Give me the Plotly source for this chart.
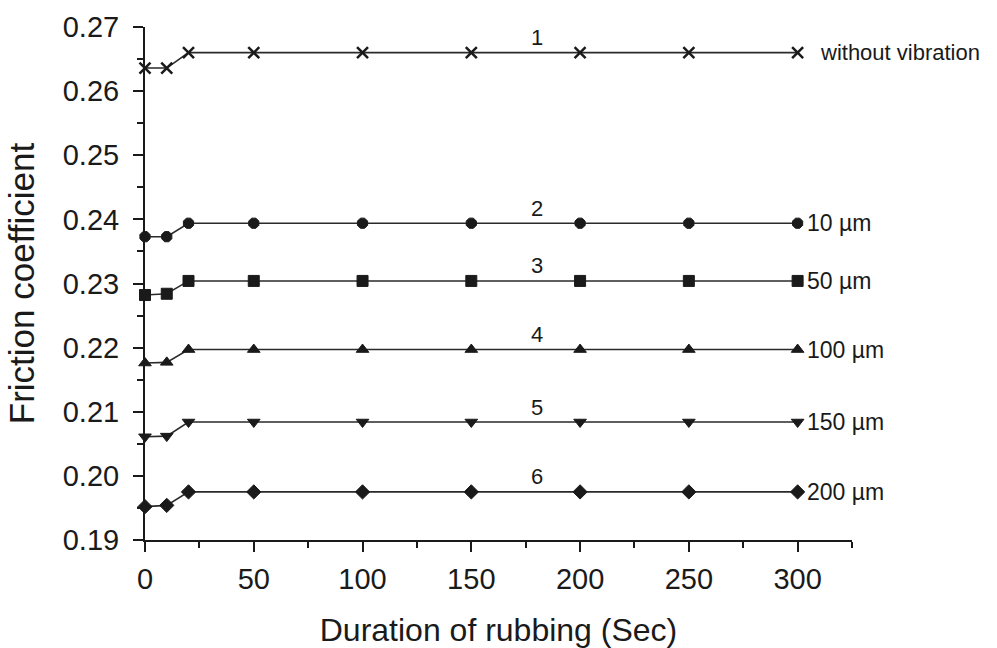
import plotly.graph_objects as go

# Rubbing duration (s)
duration = [0, 10, 20, 50, 100, 150, 200, 250, 300]

# Friction coefficient for each vibration amplitude
without_vibration = [0.2636, 0.2636, 0.2660, 0.2660, 0.2660, 0.2660, 0.2660, 0.2660, 0.2660]
amp_10um = [0.2373, 0.2373, 0.2394, 0.2394, 0.2394, 0.2394, 0.2394, 0.2394, 0.2394]
amp_50um = [0.2282, 0.2284, 0.2304, 0.2304, 0.2304, 0.2304, 0.2304, 0.2304, 0.2304]
amp_100um = [0.2176, 0.2177, 0.2197, 0.2197, 0.2197, 0.2197, 0.2197, 0.2197, 0.2197]
amp_150um = [0.2061, 0.2062, 0.2084, 0.2084, 0.2084, 0.2084, 0.2084, 0.2084, 0.2084]
amp_200um = [0.1952, 0.1954, 0.1975, 0.1975, 0.1975, 0.1975, 0.1975, 0.1975, 0.1975]

series_values = [without_vibration, amp_10um, amp_50um, amp_100um, amp_150um, amp_200um]
series_names = ["without vibration", "10 µm", "50 µm", "100 µm", "150 µm", "200 µm"]
curve_numbers = ["1", "2", "3", "4", "5", "6"]
symbols = ["x-thin", "octagon", "square", "triangle-up", "triangle-down", "diamond"]

INK = "#1a1a1a"
LINE = "#2a2a2a"
FONT = "Liberation Sans, Arial, sans-serif"

fig = go.Figure()

for vals, name, sym in zip(series_values, series_names, symbols):
    marker = dict(symbol=sym, size=11, color=INK, line=dict(color=INK, width=1))
    if sym == "x-thin":
        marker = dict(symbol=sym, size=11, color=INK, line=dict(color=INK, width=2.5))
    fig.add_trace(go.Scatter(
        x=duration, y=vals, mode="lines+markers", name=name,
        line=dict(color=LINE, width=1.6), marker=marker,
        cliponaxis=False, showlegend=False,
    ))

annotations = []
for vals, name, num in zip(series_values, series_names, curve_numbers):
    # curve number above the line
    annotations.append(dict(
        x=180, y=vals[-1], xref="x", yref="y", text=num, showarrow=False,
        yshift=15, font=dict(family=FONT, size=22, color=INK),
    ))
    # series label at the right end
    annotations.append(dict(
        x=duration[-1], y=vals[-1], xref="x", yref="y", text=name, showarrow=False,
        xanchor="left", xshift=20 if name == "without vibration" else 7,
        font=dict(family=FONT, size=23 if name != "without vibration" else 22, color=INK),
    ))

fig.update_layout(
    width=997, height=648,
    paper_bgcolor="white", plot_bgcolor="white",
    margin=dict(l=145, r=145, t=27, b=108),
    font=dict(family=FONT, color=INK),
    annotations=annotations,
    xaxis=dict(
        range=[0, 325], tickvals=[0, 50, 100, 150, 200, 250, 300],
        showgrid=False, zeroline=False, showline=True, linecolor=INK, linewidth=2,
        ticks="outside", ticklen=10, tickwidth=2, tickcolor=INK, automargin=False,
        tickfont=dict(family=FONT, size=29, color=INK), ticklabelstandoff=2,
        minor=dict(dtick=25, tick0=0, ticks="outside", ticklen=6, tickwidth=2, tickcolor=INK),
        title=dict(text="Duration of rubbing (Sec)", font=dict(family=FONT, size=32, color=INK), standoff=26),
    ),
    yaxis=dict(
        range=[0.19, 0.27], dtick=0.01, tick0=0.19, tickformat=".2f",
        showgrid=False, zeroline=False, showline=True, linecolor=INK, linewidth=2,
        ticks="outside", ticklen=10, tickwidth=2, tickcolor=INK, automargin=False,
        tickfont=dict(family=FONT, size=29, color=INK), ticklabelstandoff=8,
        minor=dict(dtick=0.005, tick0=0.19, ticks="outside", ticklen=6, tickwidth=2, tickcolor=INK),
        title=dict(text="Friction coefficient", font=dict(family=FONT, size=35, color=INK), standoff=17),
    ),
)

fig.write_html("out.html")
